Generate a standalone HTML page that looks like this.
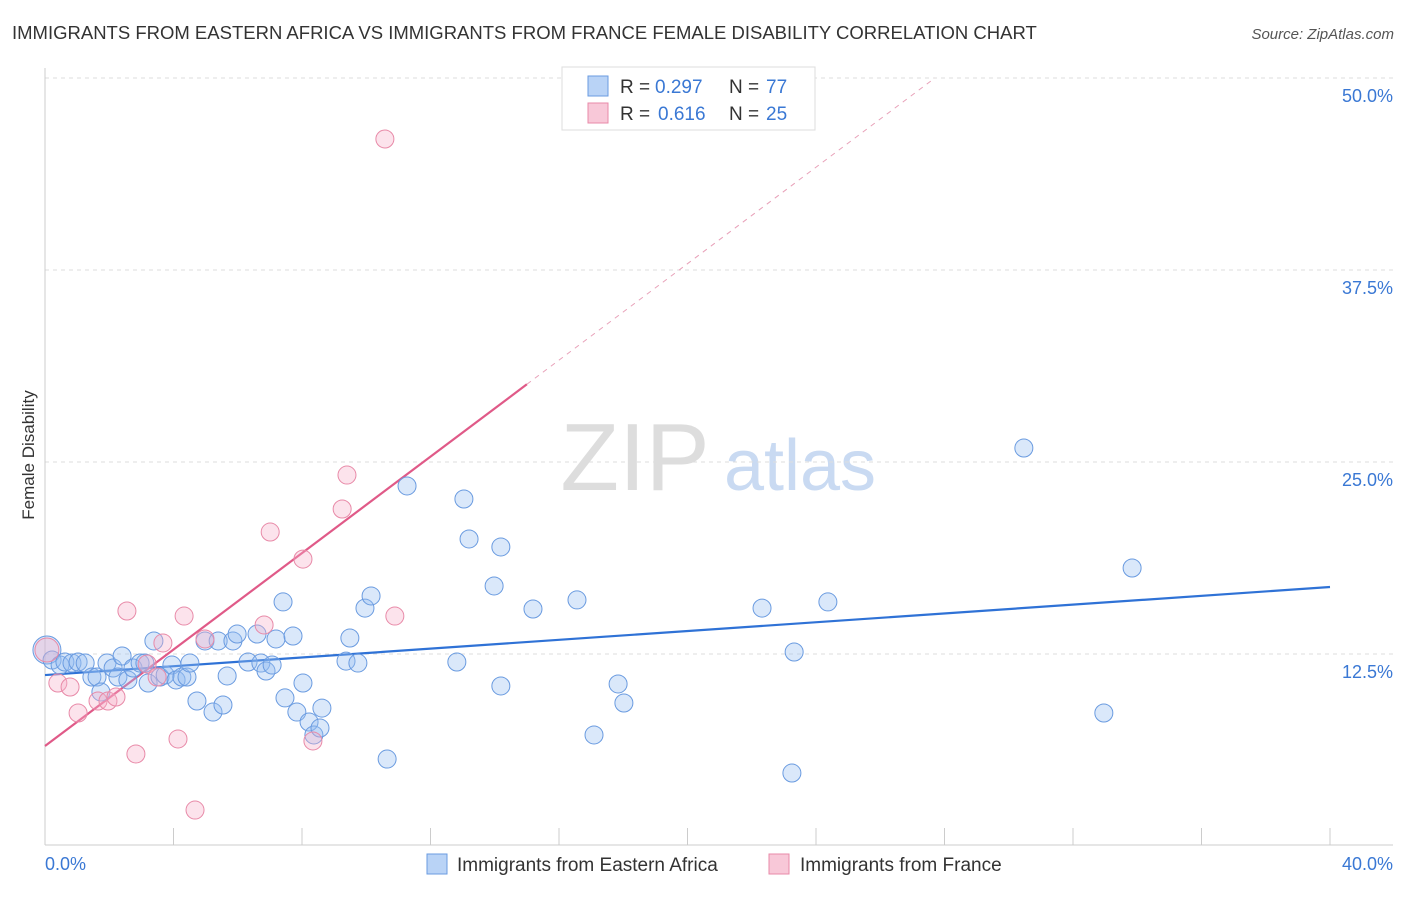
<!DOCTYPE html>
<html><head><meta charset="utf-8"><style>
body{margin:0;background:#fff;font-family:"Liberation Sans",sans-serif;}
svg text{font-family:"Liberation Sans",sans-serif;}
</style></head><body>
<svg id="chart" width="1406" height="892" xmlns="http://www.w3.org/2000/svg">
<text x="12" y="39" font-size="18.5" fill="#333">IMMIGRANTS FROM EASTERN AFRICA VS IMMIGRANTS FROM FRANCE FEMALE DISABILITY CORRELATION CHART</text>
<text x="1394" y="39" font-size="15" fill="#555" text-anchor="end" font-style="italic">Source: ZipAtlas.com</text>
<text transform="translate(34,455) rotate(-90)" font-size="17" fill="#333" text-anchor="middle">Female Disability</text>
<g>
<text x="635" y="490" font-size="96" fill="#ddd" text-anchor="middle" font-family="Liberation Serif,serif">ZIP</text>
<text x="800" y="490" font-size="72" fill="#c9daf2" text-anchor="middle">atlas</text>
</g>
<g id="grid"></g><g id="axes"></g><g id="lines"></g><g id="points"></g>
<g>
<rect x="562" y="67" width="253" height="63" fill="#fff" stroke="#ddd"/>
<rect x="588" y="76" width="20" height="20" fill="#b9d3f6" stroke="#6a9be0"/>
<text y="93" font-size="19" fill="#333"><tspan x="620">R =</tspan><tspan x="655" fill="#3a78d4">0.297</tspan><tspan x="729">N =</tspan><tspan x="766" fill="#3a78d4">77</tspan></text>
<rect x="588" y="103" width="20" height="20" fill="#f8c8d8" stroke="#e88aa8"/>
<text y="120" font-size="19" fill="#333"><tspan x="620">R =</tspan><tspan x="658" fill="#3a78d4">0.616</tspan><tspan x="729">N =</tspan><tspan x="766" fill="#3a78d4">25</tspan></text>
</g>
<g>
<rect x="427" y="854" width="20" height="20" fill="#b9d3f6" stroke="#6a9be0"/>
<text x="457" y="871" font-size="19" fill="#333">Immigrants from Eastern Africa</text>
<rect x="769" y="854" width="20" height="20" fill="#f8c8d8" stroke="#e88aa8"/>
<text x="800" y="871" font-size="19" fill="#333">Immigrants from France</text>
</g>
<text x="45" y="870" font-size="18" fill="#3a78d4">0.0%</text>
<text x="1393" y="870" font-size="18" fill="#3a78d4" text-anchor="end">40.0%</text>
</svg>
<script>
const yTicks=[12.5,25,37.5,50];
const yTickLabels=["12.5%","25.0%","37.5%","50.0%"];
const xTicks=[0,4,8,12,16,20,24,28,32,36,40];
const blueX=[0.06,0.22,0.47,0.62,0.84,1.03,1.25,1.46,1.62,1.74,1.93,2.12,2.27,2.40,2.58,2.74,2.96,3.11,3.21,3.39,3.58,3.74,3.95,4.08,4.26,4.42,4.51,4.73,4.98,5.23,5.39,5.54,5.67,5.85,5.98,6.32,6.60,6.72,6.88,7.07,7.19,7.41,7.47,7.72,7.84,8.03,8.22,8.37,8.56,8.62,9.37,9.49,9.74,9.96,10.15,10.65,11.27,12.82,13.04,13.20,13.98,14.19,14.19,15.19,16.56,17.09,17.84,18.02,22.32,23.25,23.32,24.37,30.47,32.96,33.84];
const blueY=[12.76,12.11,11.78,11.98,11.91,11.98,11.91,11.0,11.0,10.03,11.91,11.59,11.0,12.37,10.81,11.59,11.91,11.91,10.61,13.35,11.0,11.13,11.78,10.81,11.0,11.0,11.91,9.44,13.35,8.72,13.35,9.18,11.07,13.35,13.80,11.98,13.80,11.91,11.39,11.78,13.48,15.89,9.64,13.67,8.72,10.61,8.07,7.23,7.68,8.98,12.04,13.54,11.91,15.49,16.28,5.66,23.44,11.98,22.59,19.99,16.93,19.47,10.42,15.43,16.02,7.23,10.55,9.31,15.49,4.75,12.63,15.89,25.91,8.66,18.10];
const pinkX=[0.06,0.40,0.78,1.03,1.65,1.96,2.21,2.55,2.83,3.18,3.49,3.67,4.14,4.33,4.67,4.98,6.82,7.01,8.03,8.34,9.25,9.40,10.58,10.89];
const pinkY=[12.76,10.61,10.35,8.66,9.44,9.44,9.70,15.30,5.99,11.85,11.0,13.22,6.97,14.97,2.34,13.48,14.39,20.44,18.68,6.84,21.94,24.15,46.03,14.97];
const blueLine=[11.13,16.86]; // y at x=0 and x=40
const pinkLine=[6.51,1.57]; // intercept, slope
const NS="http://www.w3.org/2000/svg";
const xs=v=>45+v*32.125, ys=v=>654-(v-12.5)*15.36;
function mk(tag,attrs,parent){const e=document.createElementNS(NS,tag);for(const k in attrs)e.setAttribute(k,attrs[k]);document.getElementById(parent).appendChild(e);return e;}
yTicks.forEach((t,i)=>{
 const l=mk('line',{x1:45,x2:1393,y1:ys(t),y2:ys(t),stroke:'#ddd','stroke-dasharray':'4,4'},'grid');
 
 
 const tx=mk('text',{x:1393,y:ys(t)+24,'font-size':18,fill:'#3a78d4','text-anchor':'end'},'grid');
 tx.textContent=yTickLabels[i];
 
 
});
const ax=mk('line',{x1:45,x2:1393,y1:845,y2:845,stroke:'#ccc'},'axes');


const ay=mk('line',{x1:45,x2:45,y1:68,y2:845,stroke:'#ccc'},'axes');


xTicks.forEach(t=>{
 const l=mk('line',{x1:xs(t),x2:xs(t),y1:828,y2:845,stroke:'#ccc'},'axes');
 
 
});
const bl=mk('line',{x1:xs(0),y1:ys(blueLine[0]),x2:xs(40),y2:ys(blueLine[1]),stroke:'#2f72d6','stroke-width':2.2},'lines');


const pEnd=15;
const pl=mk('line',{x1:xs(0),y1:ys(pinkLine[0]),x2:xs(pEnd),y2:ys(pinkLine[0]+pinkLine[1]*pEnd),stroke:'#e05a88','stroke-width':2.2},'lines');


const xd=(50-pinkLine[0])/pinkLine[1];
const pd=mk('line',{x1:xs(pEnd),y1:ys(pinkLine[0]+pinkLine[1]*pEnd),x2:xs(xd),y2:ys(50),stroke:'#e8a0b8','stroke-width':1,'stroke-dasharray':'5,5'},'lines');


blueX.forEach((x,i)=>{
 const c=mk('circle',{cx:xs(x),cy:ys(blueY[i]),r:i==0?14:9,fill:'rgba(150,188,242,0.35)',stroke:'#6a9be0','stroke-width':1},'points');
 
 
});
pinkX.forEach((x,i)=>{
 const c=mk('circle',{cx:xs(x),cy:ys(pinkY[i]),r:i==0?12:9,fill:'rgba(245,175,200,0.35)',stroke:'#e88aa8','stroke-width':1},'points');
 
 
});
</script>
</body></html>
